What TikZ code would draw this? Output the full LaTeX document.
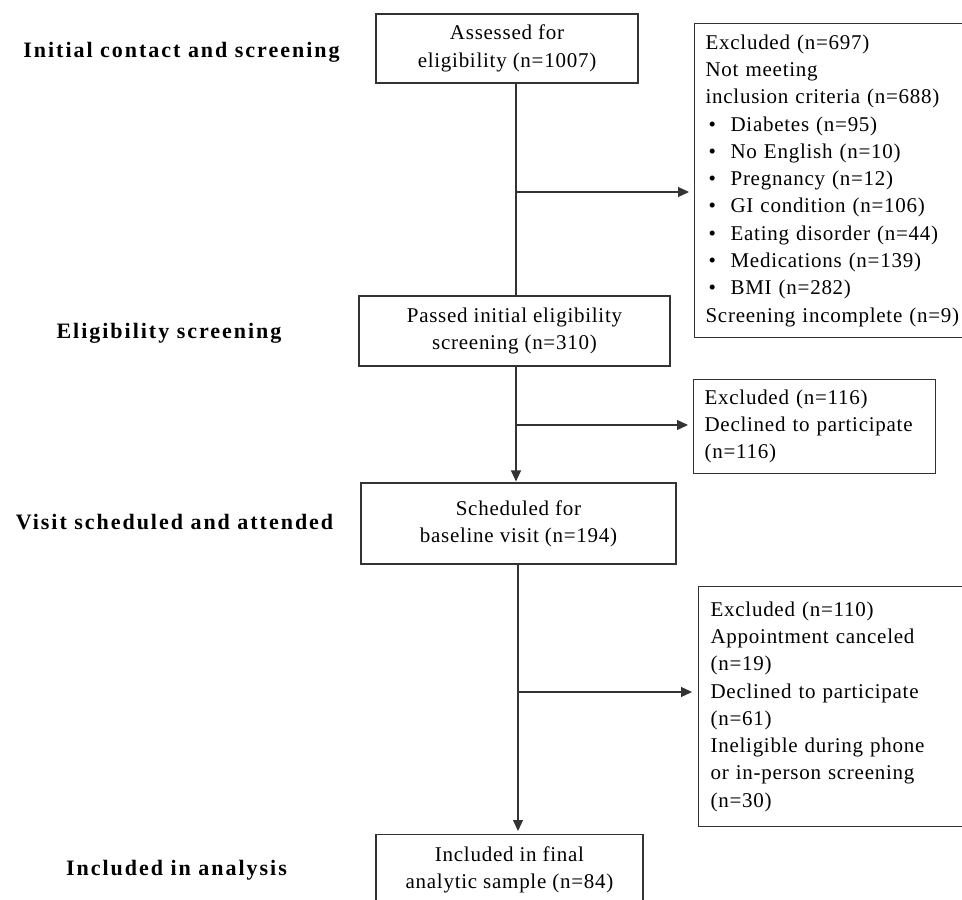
\documentclass[tikz,border=0pt]{standalone}
\usepackage{fontspec}
\setmainfont{Liberation Serif}[LetterSpace=3.5]
\usetikzlibrary{arrows.meta}
\begin{document}
\begin{tikzpicture}[x=1pt,y=-1pt,
  every node/.style={font=\fontsize{21}{27.3}\selectfont, inner sep=0pt},
  flowbox/.style={draw=black!80, line width=1.2pt, align=center},
  exbox/.style={draw=black!80, line width=1.2pt, align=left, anchor=north west, inner xsep=11pt, inner ysep=0pt},
  stage/.style={font=\fontsize{22}{24}\selectfont\bfseries\addfontfeature{LetterSpace=9}},
  conn/.style={draw=black!80, line width=1.2pt},
  arr/.style={conn, -{Triangle[length=11pt,width=10pt]}}
]
\useasboundingbox (0,0) rectangle (962,900);
\newcommand{\bitem}[1]{\makebox[25pt][l]{\hspace{3pt}•}#1}

% stage labels
\node[stage] (s1) at (181.5,52) {Initial contact and screening};
\node[stage] (s2) at (169,333) {Eligibility screening};
\node[stage] (s3) at (174.5,522) {Visit scheduled and attended};
\node[stage] (s4) at (176.5,870) {Included in analysis};

% main boxes
\node[flowbox, minimum width=262pt, minimum height=69pt] (b1) at (507,48.5) {Assessed for\\eligibility (n=1007)};
\node[flowbox, minimum width=311pt, minimum height=70pt] (b2) at (514.5,331) {Passed initial eligibility\\screening (n=310)};
\node[flowbox, minimum width=315pt, minimum height=81pt] (b3) at (518.5,523.5) {Scheduled for\\baseline visit (n=194)};
\node[flowbox, minimum width=267pt, minimum height=70pt, anchor=north] (b4) at (509.5,834) {Included in final\\analytic sample (n=84)};

% exclusion boxes
\node[exbox, text width=264pt, minimum height=314pt] (e1) at (694,23) {Excluded (n=697)\\Not meeting\\inclusion criteria (n=688)\\\bitem{Diabetes (n=95)}\\\bitem{No English (n=10)}\\\bitem{Pregnancy (n=12)}\\\bitem{GI condition (n=106)}\\\bitem{Eating disorder (n=44)}\\\bitem{Medications (n=139)}\\\bitem{BMI (n=282)}\\Screening incomplete (n=9)};
\node[exbox, text width=220pt, minimum height=94pt] (e2) at (693,379) {Excluded (n=116)\\Declined to participate\\(n=116)};
\node[exbox, inner xsep=12pt, text width=258pt, minimum height=240pt] (e3) at (698,586) {Excluded (n=110)\\Appointment canceled\\(n=19)\\Declined to participate\\(n=61)\\Ineligible during phone\\or in-person screening\\(n=30)};

% connectors
\coordinate (j1) at (516,192);
\coordinate (j2) at (516,425);
\coordinate (j3) at (518,692);
\draw[conn] (b1.south -| j1) -- (b2.north -| j1);
\draw[arr, shorten >=5pt] (j1) -- (j1 -| e1.west);
\draw[arr, shorten >=1pt] (b2.south -| j2) -- (b3.north -| j2);
\draw[arr, shorten >=5pt] (j2) -- (j2 -| e2.west);
\draw[arr, shorten >=3pt] (b3.south -| j3) -- (b4.north -| j3);
\draw[arr, shorten >=6pt] (j3) -- (j3 -| e3.west);
\end{tikzpicture}
\end{document}
